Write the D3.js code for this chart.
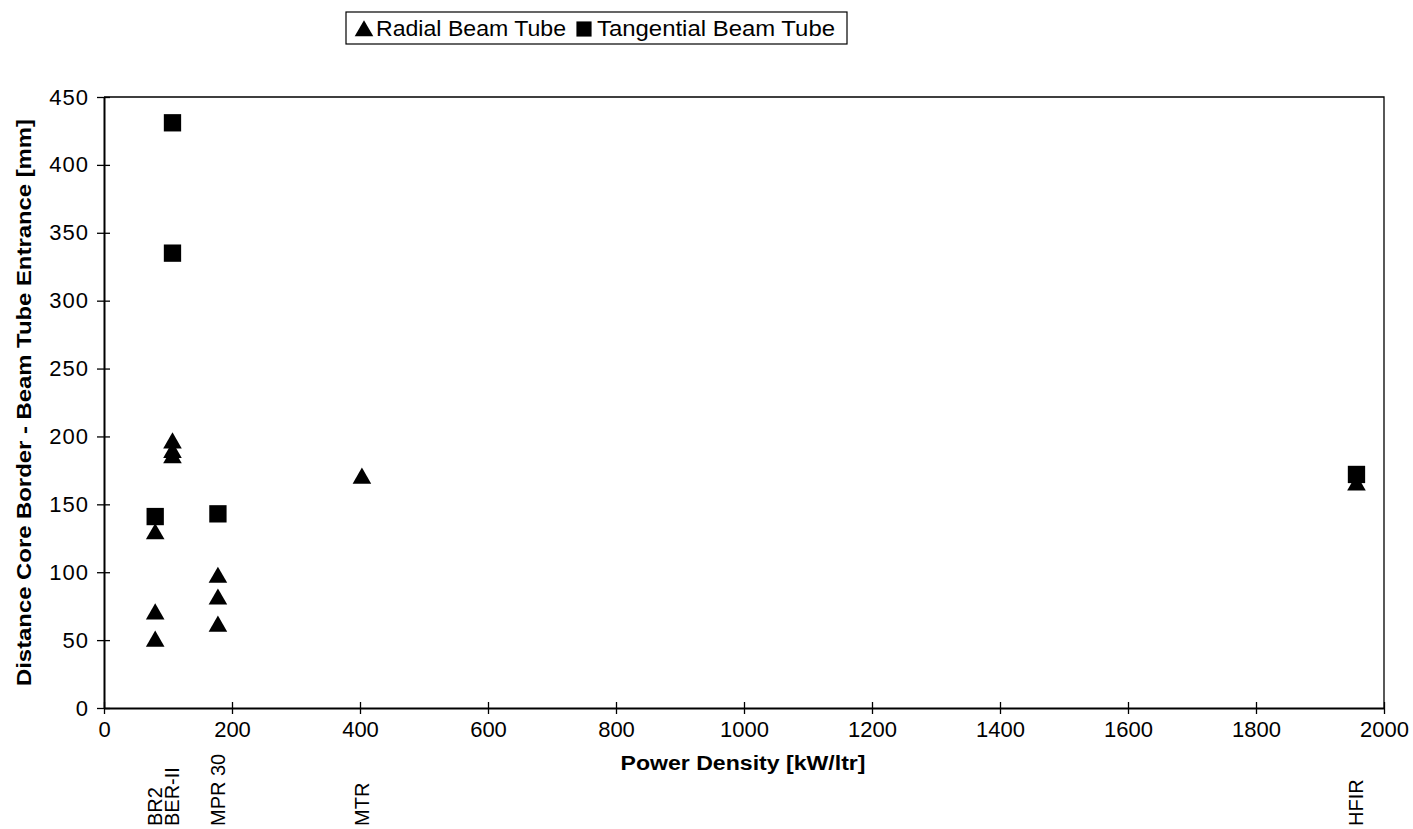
<!DOCTYPE html>
<meta charset="utf-8">
<style>
  body { margin: 0; background: #fff; }
  text { font-family: "Liberation Sans", Arial, sans-serif; fill: #000; }
  .axis path, .axis line { stroke: #000; }
  .axis path { stroke-width: 2; }
  .axis line { stroke-width: 1.3; }
  .x-axis text { font-size: 22px; }
  .y-axis text { font-size: 22px; letter-spacing: 1px; }
  .title { font-size: 20px; font-weight: bold; }
  .reactor { font-size: 20px; }
  .legend-text { font-size: 22px; }
</style>
<body></body>
<script src="https://d3js.org/d3.v7.min.js"></script>
<script>
// reactors: power density [kW/ltr]
var reactors = ['BR2', 'BER-II', 'MPR 30', 'MTR', 'HFIR'];
var powerDensity = [80, 107, 178, 403, 1957];

// distance core border - beam tube entrance [mm]
var radialX = [80, 80, 80, 107, 107, 107, 178, 178, 178, 403, 1957];
var radialY = [130, 71, 51, 197, 190, 186, 98, 82, 62, 171, 166];
var tangentialX = [80, 107, 107, 178, 1957];
var tangentialY = [141, 431, 335, 143, 172];

var xTicks = [0, 200, 400, 600, 800, 1000, 1200, 1400, 1600, 1800, 2000];
var yTicks = [0, 50, 100, 150, 200, 250, 300, 350, 400, 450];

var W = 1413, H = 829;
var plotL = 104, plotR = 1384, plotT = 97, plotB = 708;

var svg = d3.select('body').append('svg')
    .attr('width', W)
    .attr('height', H);

var x = d3.scaleLinear().domain([0, 2000]).range([plotL, plotR]);
var y = d3.scaleLinear().domain([0, 450]).range([plotB, plotT]);

// frame top + right
svg.append('path')
    .attr('d', `M${plotL},${plotT}H${plotR}V${plotB}`)
    .attr('fill', 'none')
    .attr('stroke', '#000')
    .attr('stroke-width', 1.3);

var xAxis = svg.append('g')
    .attr('class', 'axis x-axis')
    .attr('transform', `translate(0,${plotB})`)
    .call(d3.axisBottom(x).tickValues(xTicks).tickFormat(d3.format('d'))
        .tickSizeInner(6).tickSizeOuter(0).tickPadding(7));
xAxis.selectAll('.tick line').attr('y1', -6);

var yAxis = svg.append('g')
    .attr('class', 'axis y-axis')
    .attr('transform', `translate(${plotL},0)`)
    .call(d3.axisLeft(y).tickValues(yTicks).tickSizeInner(7).tickSizeOuter(0).tickPadding(8));
yAxis.selectAll('.tick line').attr('x1', 6);

// axis titles
svg.append('text')
    .attr('class', 'title')
    .attr('x', 743).attr('y', 770)
    .attr('text-anchor', 'middle')
    .attr('textLength', 245)
    .attr('lengthAdjust', 'spacingAndGlyphs')
    .text('Power Density [kW/ltr]');

svg.append('text')
    .attr('class', 'title')
    .attr('transform', `translate(31,${(plotT + plotB) / 2}) rotate(-90)`)
    .attr('text-anchor', 'middle')
    .attr('textLength', 567)
    .attr('lengthAdjust', 'spacingAndGlyphs')
    .text('Distance Core Border -  Beam Tube Entrance [mm]');

// reactor names under the axis
svg.selectAll('.reactor')
    .data(reactors)
    .enter().append('text')
    .attr('class', 'reactor')
    .attr('transform', (d, i) => `translate(${x(powerDensity[i]) + 7},826) rotate(-90)`)
    .text(d => d);

var tri = d3.symbol().type(d3.symbolTriangle).size(150);
var sq = d3.symbol().type(d3.symbolSquare).size(300);

svg.append('g').selectAll('path')
    .data(tangentialY)
    .enter().append('path')
    .attr('d', sq)
    .attr('transform', (d, i) => `translate(${x(tangentialX[i])},${y(d)})`)
    .attr('fill', '#000');

svg.append('g').selectAll('path')
    .data(radialY)
    .enter().append('path')
    .attr('d', tri)
    .attr('transform', (d, i) => `translate(${x(radialX[i])},${y(d) + 2.5})`)
    .attr('fill', '#000');

// legend
var legend = svg.append('g');
legend.append('rect')
    .attr('x', 346).attr('y', 12)
    .attr('width', 501).attr('height', 32)
    .attr('fill', '#fff')
    .attr('stroke', '#000')
    .attr('stroke-width', 1.2);
legend.append('path')
    .attr('d', d3.symbol().type(d3.symbolTriangle).size(150))
    .attr('transform', 'translate(364,31)');
legend.append('text')
    .attr('class', 'legend-text')
    .attr('x', 376).attr('y', 36)
    .attr('textLength', 190)
    .attr('lengthAdjust', 'spacingAndGlyphs')
    .text('Radial Beam Tube');
legend.append('path')
    .attr('d', d3.symbol().type(d3.symbolSquare).size(230))
    .attr('transform', 'translate(584,29)');
legend.append('text')
    .attr('class', 'legend-text')
    .attr('x', 597).attr('y', 36)
    .attr('textLength', 238)
    .attr('lengthAdjust', 'spacingAndGlyphs')
    .text('Tangential Beam Tube');
</script>
